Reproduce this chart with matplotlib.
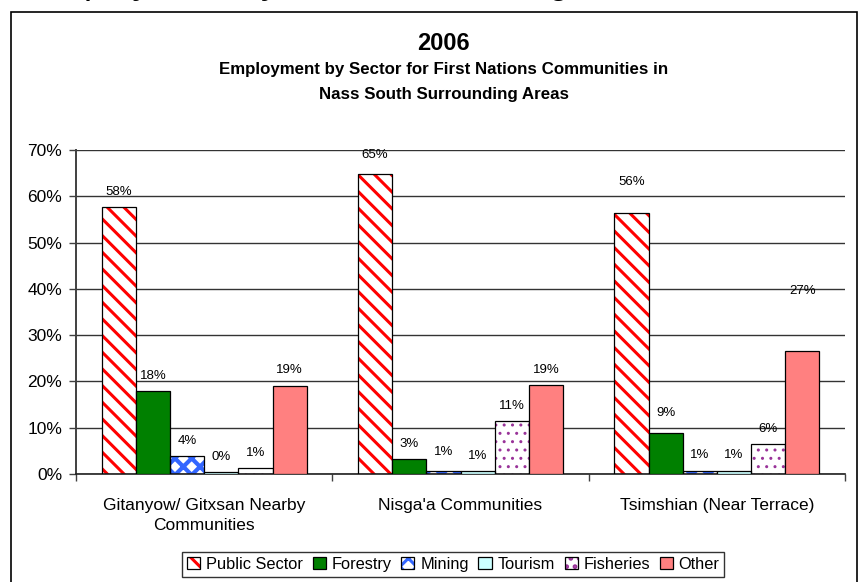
import matplotlib.pyplot as plt
import numpy as np
from matplotlib.patches import Patch, Rectangle
from matplotlib.legend_handler import HandlerTuple
from matplotlib.ticker import FuncFormatter

plt.rcParams['font.family'] = ['Liberation Sans', 'DejaVu Sans']
plt.rcParams['hatch.linewidth'] = 2.2

areas = ['Gitanyow/ Gitxsan Nearby\nCommunities', "Nisga'a Communities", 'Tsimshian (Near Terrace)']
sectors = ['Public Sector', 'Forestry', 'Mining', 'Tourism', 'Fisheries', 'Other']

# share of employment (%) by sector, one list per area
gitanyow = [57.7, 17.9, 3.9, 0.4, 1.2, 19.1]
nisgaa = [64.8, 3.2, 0.6, 0.6, 11.4, 19.2]
tsimshian = [56.4, 8.9, 0.7, 0.7, 6.4, 26.6]

# (fill, hatch colour, hatch, hatch line width) per sector
styles = [
    ('white', '#FF0000', '\\\\', 2.2),
    ('#008000', None, None, None),
    ('white', '#3366FF', 'xx', 3.0),
    ('#CCFFFF', None, None, None),
    ('white', '#993399', '..', 1.0),
    ('#FF8080', None, None, None),
]

# extra lift (points) for a few labels that sit higher
label_lift = {(1, 0): 3, (2, 0): 11, (2, 1): 3, (1, 2): 3, (2, 5): 32}

values = np.array([gitanyow, nisgaa, tsimshian]) / 100

fig = plt.figure(figsize=(8.65, 5.82), dpi=100)
ax = fig.add_axes([0.0879, 0.1856, 0.889, 0.5567])

x = np.arange(len(areas))
w = 0.1333
handles = []
for i, (face, hcol, hatch, hlw) in enumerate(styles):
    pos = x + (i - 2.5) * w
    vals = values[:, i]
    if hatch:
        with plt.rc_context({'hatch.linewidth': hlw}):
            ax.bar(pos, vals, w, color=face, edgecolor=hcol, hatch=hatch, linewidth=0, zorder=2)
            hp = Patch(facecolor=face, edgecolor=hcol, hatch=hatch, linewidth=0)
        ax.bar(pos, vals, w, facecolor='none', edgecolor='black', linewidth=0.9, zorder=3)
        handles.append((hp, Patch(facecolor='none', edgecolor='black', linewidth=0.9)))
    else:
        ax.bar(pos, vals, w, color=face, edgecolor='black', linewidth=0.9, zorder=3)
        handles.append(Patch(facecolor=face, edgecolor='black', linewidth=0.9))
    for j, (p, v) in enumerate(zip(pos, vals)):
        ax.annotate(f'{v * 100:.0f}%', (p, v), xytext=(0, 11 + label_lift.get((j, i), 0)),
                    textcoords='offset points', ha='center', va='center', fontsize=9.5)

ax.set_ylim(0, 0.7)
ax.set_xlim(-0.5, 2.413)
ax.set_yticks(np.arange(0, 0.71, 0.1))
ax.yaxis.set_major_formatter(FuncFormatter(lambda v, _: f'{v * 100:.0f}%'))
ax.yaxis.grid(True, color='#333333', linewidth=1.0, zorder=0)
ax.set_axisbelow(True)

ax.set_xticks(x)
ax.set_xticklabels(areas, fontsize=12.5, linespacing=1.45)
ax.set_xticks([-0.5, 0.5, 1.5, 2.5], minor=True)
ax.tick_params(axis='x', which='major', length=0, pad=17)
ax.tick_params(axis='x', which='minor', direction='out', length=5, width=1, color='#404040')
ax.tick_params(axis='y', direction='out', length=5, width=1, pad=5, labelsize=12.5, color='#404040')

for s in ['top', 'right']:
    ax.spines[s].set_visible(False)
ax.spines['left'].set_color('#404040')
ax.spines['left'].set_linewidth(1.4)
ax.spines['bottom'].set_color('#202020')
ax.spines['bottom'].set_linewidth(1.2)

fig.text(0.513, 1 - 43 / 582, '2006', ha='center', va='center', fontsize=17, fontweight='bold')
fig.text(0.513, 1 - 82 / 582,
         'Employment by Sector for First Nations Communities in\nNass South Surrounding Areas',
         ha='center', va='center', fontsize=12.2, fontweight='bold', linespacing=1.8)

leg = fig.legend(handles, sectors, loc='upper center', bbox_to_anchor=(0.524, 1 - 552 / 582),
                 ncol=6, fontsize=11.8, handlelength=0.8, handleheight=0.8, handletextpad=0.35,
                 columnspacing=0.6, borderpad=0.3, borderaxespad=0, fancybox=False,
                 handler_map={tuple: HandlerTuple(ndivide=1, pad=0)})
leg.get_frame().set_edgecolor('black')
leg.get_frame().set_linewidth(1.0)

# chart frame, running past the bottom of the page
fig.patches.append(Rectangle((11 / 865, -0.1), 846 / 865, 1.1 - 12 / 582, transform=fig.transFigure,
                             fill=False, edgecolor='black', linewidth=1.2))

# caption line above the chart, mostly above the page edge
fig.text(33 / 865, 1 + 7.4 / 582, 'Employment by Sector in the Region', ha='left', va='baseline',
         fontsize=26, style='italic')

fig.savefig('out.png', dpi=100)
